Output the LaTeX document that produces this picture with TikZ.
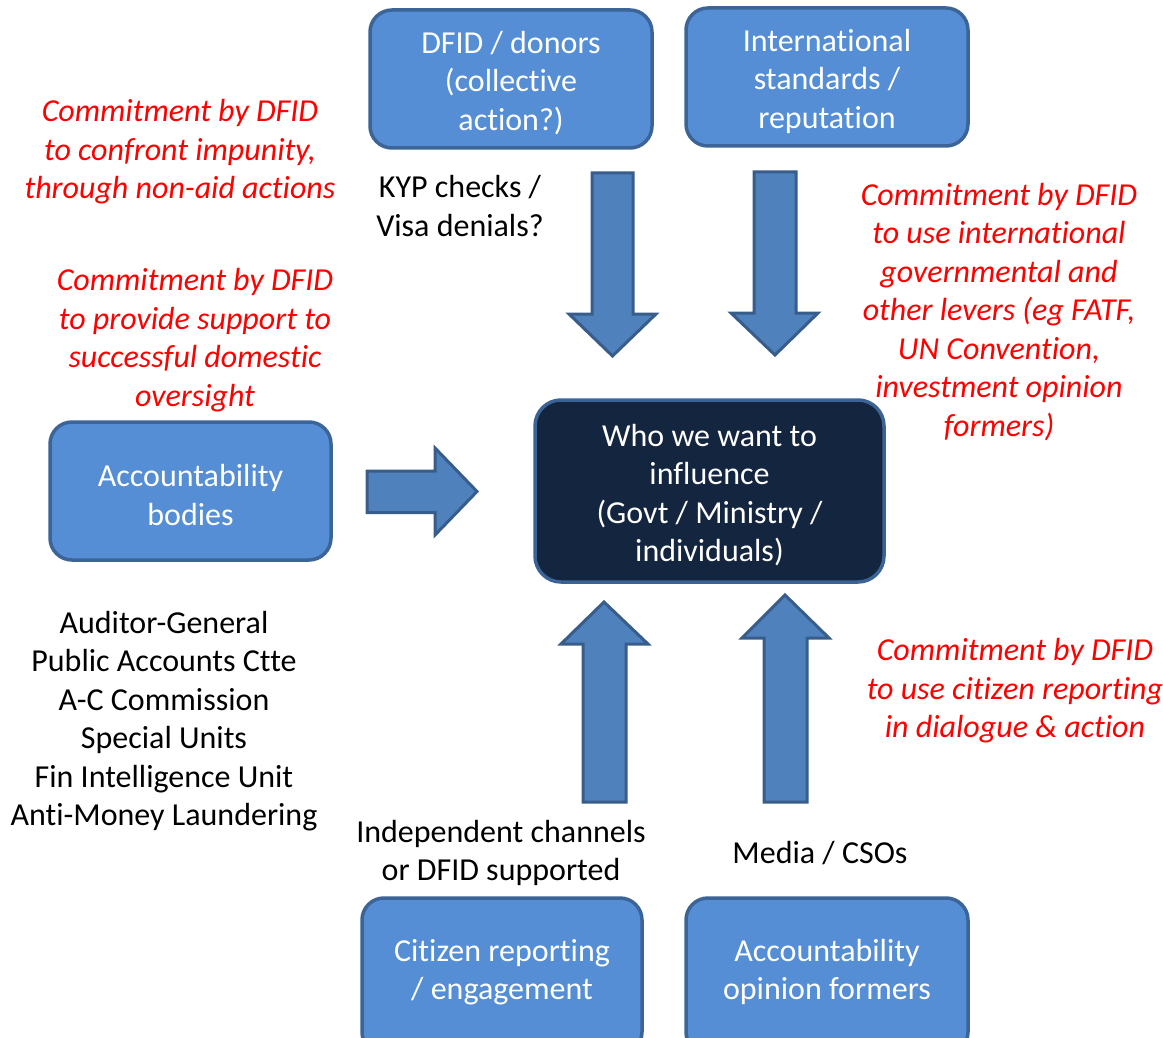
\documentclass[tikz,border=0pt]{standalone}
\usepackage{fontspec}
\setmainfont{Carlito}[Ligatures={NoCommon}]
\definecolor{boxfill}{HTML}{558ED5}
\definecolor{boxline}{HTML}{3C6497}
\definecolor{arrfill}{HTML}{4F81BD}
\definecolor{arrline}{HTML}{385D8A}
\definecolor{darkfill}{HTML}{14253F}
\definecolor{darkline}{HTML}{3B6396}
\definecolor{redtxt}{HTML}{FF0000}
\begin{document}
\begin{tikzpicture}[x=1pt,y=-1pt,
  txt/.style={align=center,inner sep=0pt,font=\fontsize{32}{38.5}\selectfont},
  bluebox/.style={draw=boxline,fill=boxfill,line width=3.5pt,rounded corners=22pt},
  darkbox/.style={draw=darkline,fill=darkfill,line width=3.5pt,rounded corners=26pt},
  boxtext/.style={txt,text=white},
  rednote/.style={txt,text=redtxt,font=\fontsize{32}{38.5}\selectfont\itshape},
  blacknote/.style={txt,text=black},
  blockarrow/.style={draw=arrline,fill=arrfill,line width=3pt,line join=miter}]
\useasboundingbox (0,0) rectangle (1163,1038);
\clip (0,0) rectangle (1163,1038);

% boxes
\node[bluebox,minimum width=282pt,minimum height=138pt] (dfid) at (511,79) {};
\node[bluebox,minimum width=282pt,minimum height=138pt] (intl) at (827,77) {};
\node[darkbox,minimum width=349pt,minimum height=182pt] (who) at (709.5,491) {};
\node[bluebox,minimum width=281pt,minimum height=138pt] (accb) at (190.5,491) {};
\node[bluebox,minimum width=280pt,minimum height=156pt] (cit) at (502,976) {};
\node[bluebox,minimum width=282pt,minimum height=156pt] (aof) at (827,976) {};

\node[boxtext] (dfidt) at (511,83) {DFID / donors\\(collective\\action?)};
\node[boxtext] (intlt) at (827,81) {International\\standards /\\reputation};
\node[boxtext] (whot) at (709.5,495) {Who we want to\\influence\\(Govt / Ministry /\\individuals)};
\node[boxtext] (accbt) at (190.5,495) {Accountability\\bodies};
\node[boxtext] (citt) at (502,972) {Citizen reporting\\/ engagement};
\node[boxtext] (aoft) at (827,972) {Accountability\\opinion formers};

% block arrows
\draw[blockarrow] (592,173) -- (633,173) -- (633,314) -- (656,314) -- (612.5,356)
  -- (569,314) -- (592,314) -- cycle;
\draw[blockarrow] (754,172) -- (796,172) -- (796,313) -- (818,313) -- (775,355)
  -- (731,313) -- (754,313) -- cycle;
\draw[blockarrow] (367,471) -- (435,471) -- (435,448) -- (477,491.5) -- (435,535)
  -- (435,512.5) -- (367,512.5) -- cycle;
\draw[blockarrow] (583,802) -- (626,802) -- (626,644) -- (648,644) -- (604,602)
  -- (561,644) -- (583,644) -- cycle;
\draw[blockarrow] (764,802) -- (807,802) -- (807,638) -- (829,638) -- (785,595)
  -- (742,638) -- (764,638) -- cycle;

% notes
\node[rednote] (r1) at (180,152)
  {Commitment by DFID\\to confront impunity,\\through non-aid actions};
\node[rednote] (r2) at (195,340)
  {Commitment by DFID\\to provide support to\\successful domestic\\oversight};
\node[rednote] (r3) at (999,312)
  {Commitment by DFID\\to use international\\governmental and\\other levers (eg FATF,\\UN Convention,\\investment opinion\\formers)};
\node[rednote] (r4) at (1015,691)
  {Commitment by DFID\\to use citizen reporting\\in dialogue \& action};
\node[blacknote] (kyp) at (460,206) {KYP checks /\\Visa denials?};
\node[blacknote] (list) at (164,721)
  {Auditor-General\\Public Accounts Ctte\\A-C Commission\\Special Units\\Fin Intelligence Unit\\Anti-Money Laundering};
\node[blacknote] (indep) at (501,853) {Independent channels\\or DFID supported};
\node[blacknote] (media) at (820,853) {Media / CSOs};
\end{tikzpicture}
\end{document}
